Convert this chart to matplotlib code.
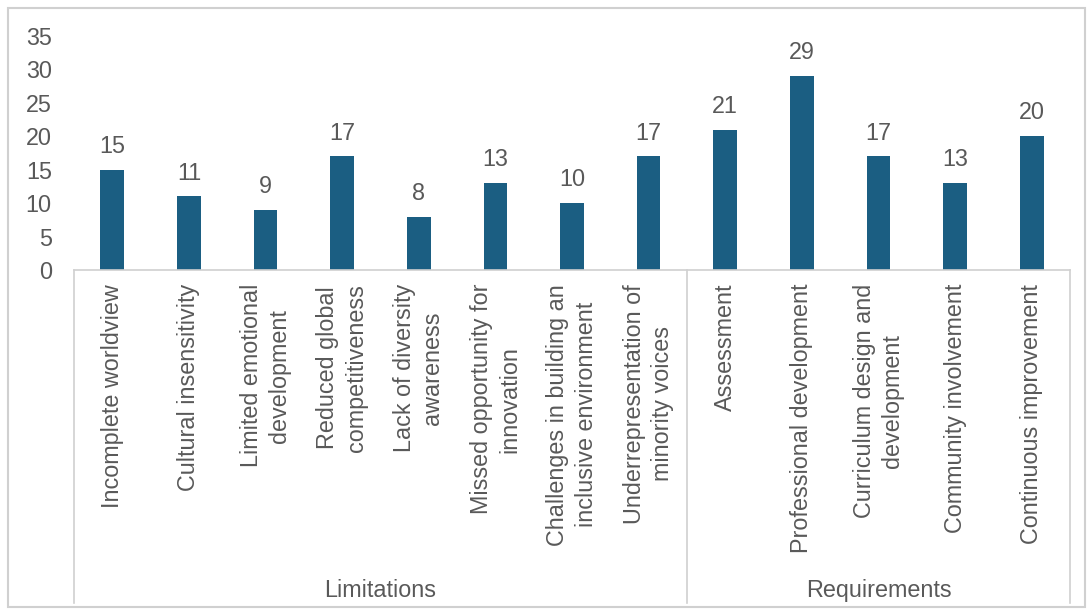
import matplotlib.pyplot as plt
from matplotlib.patches import Rectangle

plt.rcParams['font.family'] = ['Liberation Sans', 'DejaVu Sans']

# data
limitations = ["Incomplete worldview", "Cultural insensitivity", "Limited emotional\ndevelopment",
               "Reduced global\ncompetitiveness", "Lack of diversity\nawareness",
               "Missed opportunity for\ninnovation", "Challenges in building an\ninclusive environment",
               "Underrepresentation of\nminority voices"]
limitation_values = [15, 11, 9, 17, 8, 13, 10, 17]
requirements = ["Assessment", "Professional development", "Curriculum design and\ndevelopment",
                "Community involvement", "Continuous improvement"]
requirement_values = [21, 29, 17, 13, 20]
groups = ["Limitations", "Requirements"]

labels = limitations + requirements
values = limitation_values + requirement_values
x = list(range(len(labels)))

bar_color = "#1b5e82"
text_color = "#595959"
line_color = "#d0d0d0"
fs = 16.8

fig = plt.figure(figsize=(10.91, 6.15), dpi=100)
ax = fig.add_axes([74 / 1091, 1 - 270 / 615, (1070 - 74) / 1091, 234 / 615])

bars = ax.bar(x, values, width=0.31, color=bar_color)
for xi, v in zip(x, values):
    ax.annotate(str(v), (xi, v), xytext=(0, 8.5), textcoords='offset points',
                ha='center', va='bottom', fontsize=fs, color=text_color)

ax.set_xlim(-0.5, len(labels) - 0.5)
ax.set_ylim(0, 35)
ax.set_yticks(range(0, 36, 5))
ax.set_xticks(x)
ax.set_xticklabels(labels, rotation=90, multialignment='center', fontsize=fs, color=text_color,
                   linespacing=1.3)
ax.tick_params(axis='x', length=0, pad=10)
ax.tick_params(axis='y', length=0, pad=16, labelsize=fs, labelcolor=text_color)

for side in ['top', 'right', 'left']:
    ax.spines[side].set_visible(False)
ax.spines['bottom'].set_color(line_color)
ax.spines['bottom'].set_linewidth(1.2)

# group separators and labels below the category labels
trans = ax.get_xaxis_transform()
bottom = -1.423
split = len(limitations) - 0.5
for bx in [-0.5, split, len(labels) - 0.5]:
    ax.plot([bx, bx], [0, bottom], transform=trans, color=line_color, lw=1.2, clip_on=False)
centers = [(-0.5 + split) / 2, (split + len(labels) - 0.5) / 2]
for cx, g in zip(centers, groups):
    ax.text(cx, -1.37, g, transform=trans, ha='center', va='center', fontsize=fs, color=text_color)

# chart border
fig.patches.append(Rectangle((8 / 1091, 1 - 607 / 615), 1077 / 1091, 599 / 615,
                             transform=fig.transFigure, fill=False, edgecolor=line_color, lw=1.5))

fig.savefig("out.png", dpi=100)
